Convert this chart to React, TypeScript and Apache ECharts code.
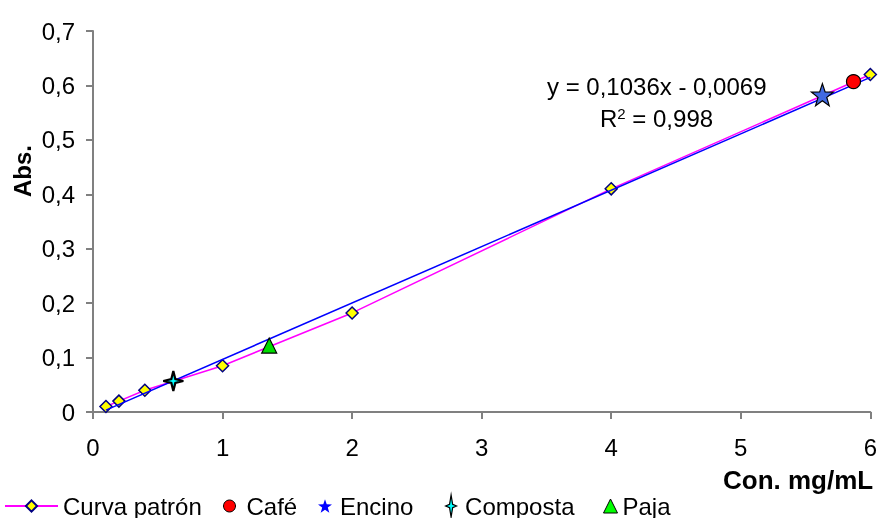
import React, { useEffect, useRef } from "react";
import * as echarts from "echarts";

const curvaX = [0.1, 0.2, 0.4, 1, 2, 4, 6];
const curvaY = [0.01, 0.02, 0.04, 0.085, 0.182, 0.41, 0.62];
const cafe = [[5.87, 0.607]];
const encino = [[5.63, 0.583]];
const composta = [[0.62, 0.057]];
const paja = [[1.36, 0.122]];
const slope = 0.1036;
const intercept = -0.0069;
const trendX = [0.1, 6];
const xTicks = [0, 1, 2, 3, 4, 5, 6];
const yTicks = ["0", "0,1", "0,2", "0,3", "0,4", "0,5", "0,6", "0,7"];

const STAR5 =
  "path://M0,-10 L2.35,-3.24 L9.51,-3.09 L3.8,1.24 L5.88,8.09 L0,4 L-5.88,8.09 L-3.8,1.24 L-9.51,-3.09 L-2.35,-3.24 Z";
const STAR4 = "path://M0,-10 L2,-2 L10,0 L2,2 L0,10 L-2,2 L-10,0 L-2,-2 Z";
const STAR4TALL = "path://M0,-10 L1.4,-1.6 L5,0 L1.4,1.6 L0,10 L-1.4,1.6 L-5,0 L-1.4,-1.6 Z";

const FONT = "Liberation Sans, Arial, sans-serif";
const FS = 24;

function legendItem(name: string, left: number, w: number, h: number, pad: number, extra: any = {}) {
  return {
    left,
    top: 494,
    padding: 0,
    itemWidth: w,
    itemHeight: h,
    selectedMode: false,
    textStyle: { fontSize: FS, color: "#000", fontFamily: FONT, padding: [0, 0, 0, pad] },
    data: [{ name, ...extra }],
  };
}

export default function App() {
  const ref = useRef<HTMLDivElement>(null);
  useEffect(() => {
    const chart = echarts.init(ref.current!, null, { renderer: "svg" });
    chart.setOption({
      animation: false,
      textStyle: { fontFamily: FONT },
      grid: { left: 93, right: 6, top: 31, bottom: 106 },
      xAxis: {
        type: "value",
        min: 0,
        max: 6,
        interval: 1,
        axisLine: { lineStyle: { color: "#808080", width: 2 } },
        axisTick: { show: true, length: 7, lineStyle: { color: "#808080", width: 2 } },
        axisLabel: {
          color: "#000",
          fontSize: FS,
          margin: 23,
          fontFamily: FONT,
          formatter: (v: number) => String(xTicks[Math.round(v)]),
        },
        splitLine: { show: false },
      },
      yAxis: {
        type: "value",
        min: 0,
        max: 0.7,
        interval: 0.1,
        axisLine: { show: true, lineStyle: { color: "#808080", width: 2 } },
        axisTick: { show: true, length: 7, lineStyle: { color: "#808080", width: 2 } },
        axisLabel: {
          color: "#000",
          fontSize: FS,
          margin: 18,
          fontFamily: FONT,
          formatter: (v: number) => yTicks[Math.round(v * 10)],
        },
        splitLine: { show: false },
      },
      legend: [
        legendItem("Curva patrón", 4, 53, 14, 0),
        legendItem("Café", 223, 12, 14, 6, {
          icon: "circle",
          itemStyle: { color: "#ff0000", borderColor: "#000", borderWidth: 1 },
        }),
        legendItem("Encino", 318, 14, 14, 3, {
          icon: STAR5,
          itemStyle: { color: "#0000ff", borderWidth: 0 },
        }),
        legendItem("Composta", 445, 12, 22, 3, {
          icon: STAR4TALL,
          itemStyle: { color: "#00ffff", borderColor: "#000", borderWidth: 1.2 },
        }),
        legendItem("Paja", 603, 14, 14, 0, {
          icon: "triangle",
          itemStyle: { color: "#00ff00", borderColor: "#000", borderWidth: 1 },
        }),
      ],
      series: [
        {
          name: "Tendencia",
          type: "line",
          data: trendX.map((x) => [x, slope * x + intercept]),
          showSymbol: false,
          lineStyle: { color: "#0000ff", width: 1.5 },
          z: 2,
        },
        {
          name: "Curva patrón",
          type: "line",
          data: curvaX.map((x, i) => [x, curvaY[i]]),
          symbol: "diamond",
          symbolSize: 12,
          lineStyle: { color: "#ff00ff", width: 1.5 },
          itemStyle: { color: "#ffff00", borderColor: "#000080", borderWidth: 1.5 },
          z: 1,
        },
        {
          name: "Café",
          type: "scatter",
          data: cafe,
          symbol: "circle",
          symbolSize: 14,
          itemStyle: { color: "#ff0000", borderColor: "#000", borderWidth: 1.2, opacity: 1 },
          z: 5,
        },
        {
          name: "Encino",
          type: "scatter",
          data: encino,
          symbol: STAR5,
          symbolSize: 22,
          itemStyle: { color: "#4169e1", borderColor: "#000", borderWidth: 1.2, opacity: 1 },
          z: 5,
        },
        {
          name: "Composta",
          type: "scatter",
          data: composta,
          symbol: STAR4,
          symbolSize: 20,
          itemStyle: { color: "#00ffff", borderColor: "#000", borderWidth: 2.2, opacity: 1 },
          z: 5,
        },
        {
          name: "Paja",
          type: "scatter",
          data: paja,
          symbol: "triangle",
          symbolSize: 15,
          itemStyle: { color: "#00dd00", borderColor: "#000", borderWidth: 1.2, opacity: 1 },
          z: 5,
        },
      ],
      graphic: [
        {
          type: "text",
          left: 547,
          top: 74,
          style: { text: "y = 0,1036x - 0,0069", fontSize: FS, fill: "#000", fontFamily: FONT },
        },
        {
          type: "text",
          left: 600,
          top: 106,
          style: {
            text: "R{s|2} = 0,998",
            fontSize: FS,
            fill: "#000",
            fontFamily: FONT,
            rich: { s: { fontSize: 15, verticalAlign: "top", padding: [0, 0, 10, 0], fontFamily: FONT } },
          },
        },
        {
          type: "text",
          x: 10,
          y: 171,
          rotation: Math.PI / 2,
          style: {
            text: "Abs.",
            fontSize: FS,
            fontWeight: "bold",
            fill: "#000",
            fontFamily: FONT,
            align: "center",
            verticalAlign: "top",
          },
        },
        {
          type: "text",
          left: 723,
          top: 467,
          style: { text: "Con. mg/mL", fontSize: 26, fontWeight: "bold", fill: "#000", fontFamily: FONT },
        },
      ],
    });
    return () => chart.dispose();
  }, []);
  return <div ref={ref} style={{ position: "fixed", left: 0, top: 0, width: 880, height: 518 }} />;
}
